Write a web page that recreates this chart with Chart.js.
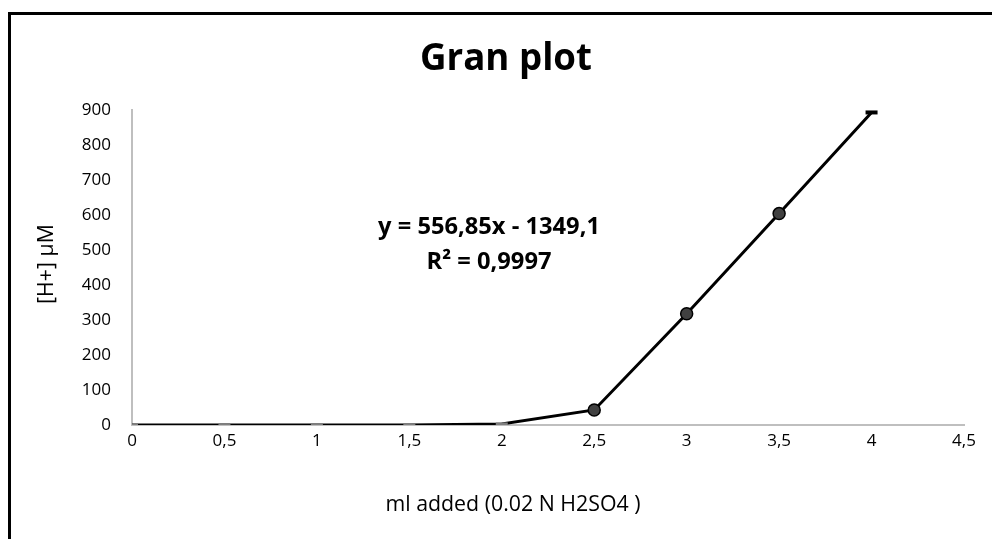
<!DOCTYPE html>
<html>
<head>
<meta charset="utf-8">
<script src="https://cdn.jsdelivr.net/npm/chart.js@4/dist/chart.umd.min.js"></script>
<style>
html,body{margin:0;padding:0;background:#fff;}
#wrap{width:992px;height:539px;position:relative;}
</style>
</head>
<body>
<div id="wrap"><canvas id="c" width="992" height="539"></canvas></div>
<script>
const chartTitle = "Gran plot";
const xAxisTitle = "ml added (0.02 N H2SO4 )";
const yAxisTitle = "[H+] µM";
const volumes = [0, 0.5, 1, 1.5, 2, 2.5, 3, 3.5, 4];
const hPlus = [0, 0, 0, 0, 3, 43, 318, 604, 893];
const pointStyles = ['line','line','line','line','line','circle','circle','circle','line'];
const equationLines = ["y = 556,85x - 1349,1", "R² = 0,9997"];

const FONT = "'Open Sans', 'Liberation Sans', sans-serif";

function fitText(ctx, text, weight, targetW, x, y) {
  ctx.font = weight + " 20px " + FONT;
  const w = ctx.measureText(text).width;
  const size = 20 * targetW / w;
  ctx.font = weight + " " + size.toFixed(2) + "px " + FONT;
  ctx.fillText(text, x, y);
}

const decor = {
  id: 'decor',
  beforeDraw(chart) {
    const ctx = chart.ctx;
    ctx.save();
    ctx.fillStyle = '#fff';
    ctx.fillRect(0, 0, chart.width, chart.height);
    ctx.restore();
  },
  afterDraw(chart) {
    const ctx = chart.ctx;
    ctx.save();
    ctx.strokeStyle = '#000';
    ctx.lineWidth = 3;
    ctx.strokeRect(9.5, 13.5, 1100, 700);
    ctx.fillStyle = '#000';
    ctx.textAlign = 'center';
    ctx.textBaseline = 'middle';
    fitText(ctx, chartTitle, 'bold', 172, 506, 60);
    fitText(ctx, equationLines[0], 'bold', 222, 489, 227);
    ctx.fillText(equationLines[1], 489, 262);
    fitText(ctx, xAxisTitle, 'normal', 255, 513, 505);
    const xFont = ctx.font;
    ctx.translate(47, 264);
    ctx.rotate(-Math.PI / 2);
    ctx.font = xFont;
    ctx.fillText(yAxisTitle, 0, 0);
    ctx.restore();
  }
};

new Chart(document.getElementById('c'), {
  type: 'line',
  data: {
    datasets: [{
      data: volumes.map((v, i) => ({x: v, y: hPlus[i]})),
      borderColor: '#000',
      borderWidth: 3,
      tension: 0,
      pointStyle: pointStyles,
      pointRadius: 6,
      pointBackgroundColor: ['#7f7f7f','#7f7f7f','#7f7f7f','#7f7f7f','#7f7f7f','#404040','#404040','#404040','#000'],
      pointBorderColor: ['#7f7f7f','#7f7f7f','#7f7f7f','#7f7f7f','#7f7f7f','#000','#000','#000','#000'],
      pointBorderWidth: [3,3,3,3,3,1.5,1.5,1.5,4]
    }]
  },
  options: {
    responsive: false,
    animation: false,
    devicePixelRatio: 1,
    layout: { padding: { top: 110, right: 28, left: 0, bottom: 0 } },
    plugins: { legend: { display: false }, tooltip: { enabled: false } },
    scales: {
      x: {
        type: 'linear',
        min: 0, max: 4.5,
        afterFit(s) { s.height = 114; },
        grid: { display: false, drawTicks: false },
        border: { display: true, color: '#bfbfbf', width: 2 },
        ticks: {
          stepSize: 0.5,
          padding: 6,
          autoSkip: false,
          maxRotation: 0,
          color: '#000',
          font: { family: FONT, size: 17 },
          callback: v => String(v).replace('.', ',')
        }
      },
      y: {
        min: 0, max: 900,
        afterFit(s) { s.width = 132; },
        grid: { display: false, drawTicks: false },
        border: { display: true, color: '#bfbfbf', width: 2 },
        ticks: {
          stepSize: 100,
          padding: 21,
          color: '#000',
          font: { family: FONT, size: 17 }
        }
      }
    }
  },
  plugins: [decor]
});
</script>
</body>
</html>
